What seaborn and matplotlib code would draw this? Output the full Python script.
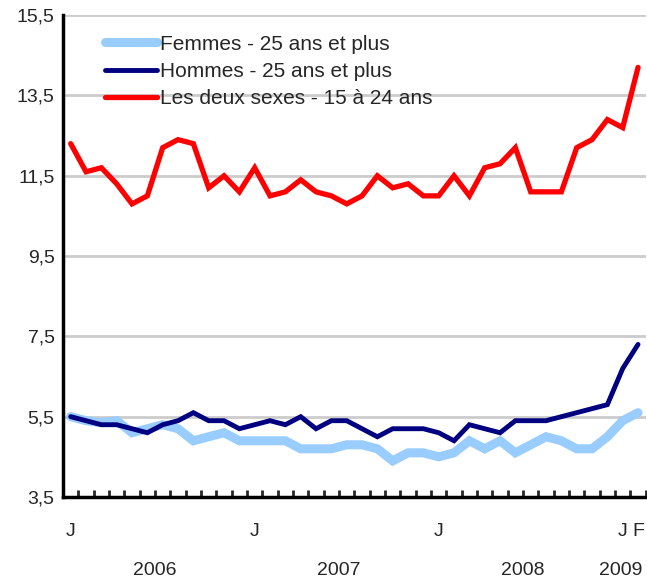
import matplotlib
matplotlib.use("Agg")
import matplotlib.pyplot as plt
import numpy as np
import pandas as pd
import seaborn as sns

# monthly values, Jan 2006 .. Feb 2009
femmes = [5.5, 5.4, 5.35, 5.4, 5.1, 5.2, 5.3, 5.2, 4.9, 5.0, 5.1, 4.9,
          4.9, 4.9, 4.9, 4.7, 4.7, 4.7, 4.8, 4.8, 4.7, 4.4, 4.6, 4.6,
          4.5, 4.6, 4.9, 4.7, 4.9, 4.6, 4.8, 5.0, 4.9, 4.7, 4.7, 5.0,
          5.4, 5.6]
hommes = [5.5, 5.4, 5.3, 5.3, 5.2, 5.1, 5.3, 5.4, 5.6, 5.4, 5.4, 5.2,
          5.3, 5.4, 5.3, 5.5, 5.2, 5.4, 5.4, 5.2, 5.0, 5.2, 5.2, 5.2,
          5.1, 4.9, 5.3, 5.2, 5.1, 5.4, 5.4, 5.4, 5.5, 5.6, 5.7, 5.8,
          6.7, 7.3]
jeunes = [12.3, 11.6, 11.7, 11.3, 10.8, 11.0, 12.2, 12.4, 12.3, 11.2, 11.5, 11.1,
          11.7, 11.0, 11.1, 11.4, 11.1, 11.0, 10.8, 11.0, 11.5, 11.2, 11.3, 11.0,
          11.0, 11.5, 11.0, 11.7, 11.8, 12.2, 11.1, 11.1, 11.1, 12.2, 12.4, 12.9,
          12.7, 14.2]
labels = ["Femmes - 25 ans et plus", "Hommes - 25 ans et plus",
          "Les deux sexes - 15 à 24 ans"]
colors = ["#99CCFF", "#000080", "#FF0000"]
widths = [6.5, 3.5, 3.8]
month_ticks = {0: "J", 12: "J", 24: "J", 36: "J", 37: "F"}
years = {"2006": 5.5, "2007": 17.5, "2008": 29.5, "2009": 35.9}
y_ticks = [3.5, 5.5, 7.5, 9.5, 11.5, 13.5, 15.5]

sns.set_style("white")
plt.rcParams["font.family"] = ["Liberation Sans", "DejaVu Sans"]
plt.rcParams["font.size"] = 14

months = np.arange(len(femmes))
df = pd.DataFrame({"mois": np.tile(months, 3),
                   "taux": femmes + hommes + jeunes,
                   "serie": np.repeat(labels, len(months))})

fig = plt.figure(figsize=(6.47, 5.84), dpi=100)
ax = fig.add_axes([0.0974, 0.149, 0.9006, 0.825])

for lab, col, lw in zip(labels, colors, widths):
    sns.lineplot(data=df[df["serie"] == lab], x="mois", y="taux", color=col,
                 linewidth=lw, label=lab, ax=ax, solid_capstyle="round",
                 solid_joinstyle="miter")

ax.set_xlim(-0.5, len(months) - 0.5)
ax.set_ylim(3.5, 15.5)
ax.set_yticks(y_ticks)
ax.set_yticklabels([f"{v:.1f}".replace(".", ",") for v in y_ticks])
ax.yaxis.grid(True, color="#CCCCCC", linewidth=2)
ax.set_axisbelow(True)
ax.set_xlabel("")
ax.set_ylabel("")

ax.set_xticks(months + 0.5, minor=True)
ax.set_xticks(list(month_ticks.keys()))
ax.set_xticklabels(list(month_ticks.values()))
ax.tick_params(axis="x", which="major", length=0, pad=19)
ax.tick_params(axis="x", which="minor", direction="in", length=5, width=2,
               bottom=True)
ax.tick_params(axis="y", length=0, pad=6)

for name, pos in years.items():
    ax.text(pos, -0.152, name, transform=ax.get_xaxis_transform(),
            ha="center", va="center", fontsize=14)

for side in ["top", "right"]:
    ax.spines[side].set_visible(False)
for side in ["left", "bottom"]:
    ax.spines[side].set_color("black")
    ax.spines[side].set_linewidth(2.5)

ax.legend(loc="upper left", bbox_to_anchor=(0.047, 0.99), frameon=False,
          handlelength=2.5, handletextpad=0.15, labelspacing=0.4,
          borderaxespad=0.3, fontsize=15)

fig.savefig("out.png", dpi=100)
